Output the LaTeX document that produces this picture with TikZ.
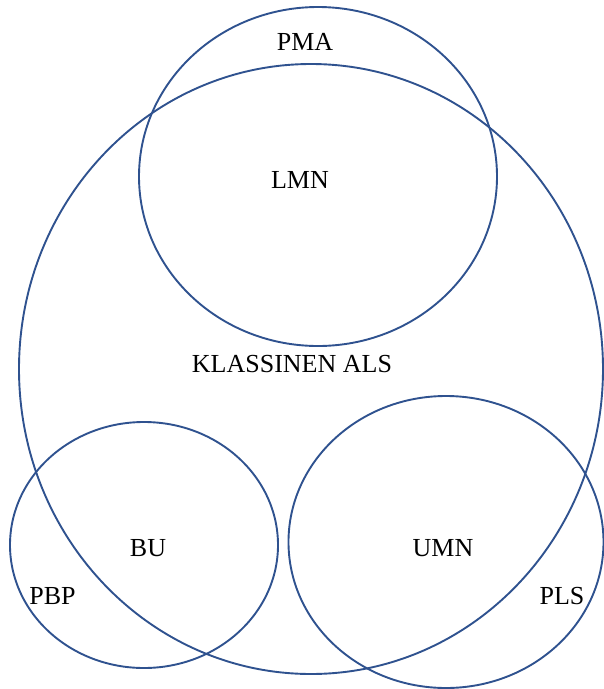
\documentclass[tikz,border=0pt]{standalone}
\usepackage{fontspec}
\setmainfont{Liberation Serif}
\usetikzlibrary{shapes.geometric}
\definecolor{vblue}{HTML}{2F528F}
\begin{document}
\begin{tikzpicture}[x=1pt,y=-1pt,
  venn/.style={draw=vblue, line width=1.9pt, ellipse, inner sep=0pt},
  lbl/.style={font=\fontsize{26}{30}\selectfont, text=black, inner sep=0pt}]
\useasboundingbox (0,0) rectangle (604,689);
\node[venn, minimum width=584, minimum height=610] (als) at (311,369) {};
\node[venn, minimum width=358, minimum height=339] (pma) at (318,176.5) {};
\node[venn, minimum width=268, minimum height=246] (bu) at (144,545) {};
\node[venn, minimum width=315, minimum height=292] (umn) at (446,542) {};
\node[lbl] (tpma) at (305,41.5) {PMA};
\node[lbl] (tlmn) at (300,180) {LMN};
\node[lbl] (tals) at (292,364) {KLASSINEN ALS};
\node[lbl] (tbu) at (148,548.5) {BU};
\node[lbl] (tpbp) at (52.5,596) {PBP};
\node[lbl] (tumn) at (443,548.5) {UMN};
\node[lbl] (tpls) at (562,596) {PLS};
\end{tikzpicture}
\end{document}
